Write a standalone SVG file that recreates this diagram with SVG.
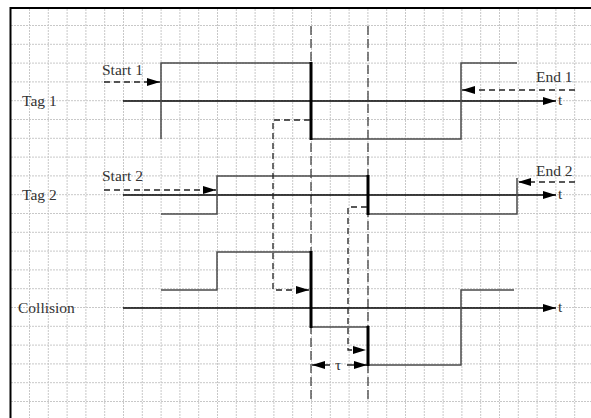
<svg xmlns="http://www.w3.org/2000/svg" width="591" height="418" viewBox="0 0 591 418">
<style>
.grid line{stroke:#c8c8c8;stroke-width:1;stroke-dasharray:2,1}
.sig{fill:none;stroke:#4a4a4a;stroke-width:1.5}
.thick{stroke:#000;stroke-width:3}
.axis{stroke:#000;stroke-width:1.3}
.dash{fill:none;stroke:#222;stroke-width:1.3;stroke-dasharray:6,4}
.guide{fill:none;stroke:#444;stroke-width:1.3;stroke-dasharray:9,4}
text{font-family:"Liberation Serif","Times New Roman",serif;font-size:15.5px;fill:#333}
</style>
<defs>
<marker id="ah" viewBox="0 0 13 8" refX="13" refY="4" markerWidth="13" markerHeight="8" markerUnits="userSpaceOnUse" orient="auto-start-reverse">
<path d="M0,0 L13,4 L0,8 z" fill="#000"/>
</marker>
</defs>
<rect x="0" y="0" width="591" height="418" fill="#fff"/>
<g class="grid" id="grid">
<line x1="29.5" y1="9" x2="29.5" y2="418"/><line x1="48.3" y1="9" x2="48.3" y2="418"/><line x1="67.1" y1="9" x2="67.1" y2="418"/><line x1="85.9" y1="9" x2="85.9" y2="418"/><line x1="104.7" y1="9" x2="104.7" y2="418"/><line x1="123.5" y1="9" x2="123.5" y2="418"/><line x1="142.3" y1="9" x2="142.3" y2="418"/><line x1="161.1" y1="9" x2="161.1" y2="418"/><line x1="179.9" y1="9" x2="179.9" y2="418"/><line x1="198.7" y1="9" x2="198.7" y2="418"/><line x1="217.5" y1="9" x2="217.5" y2="418"/><line x1="236.3" y1="9" x2="236.3" y2="418"/><line x1="255.1" y1="9" x2="255.1" y2="418"/><line x1="273.9" y1="9" x2="273.9" y2="418"/><line x1="292.7" y1="9" x2="292.7" y2="418"/><line x1="311.5" y1="9" x2="311.5" y2="418"/><line x1="330.3" y1="9" x2="330.3" y2="418"/><line x1="349.1" y1="9" x2="349.1" y2="418"/><line x1="367.9" y1="9" x2="367.9" y2="418"/><line x1="386.7" y1="9" x2="386.7" y2="418"/><line x1="405.5" y1="9" x2="405.5" y2="418"/><line x1="424.3" y1="9" x2="424.3" y2="418"/><line x1="443.1" y1="9" x2="443.1" y2="418"/><line x1="461.9" y1="9" x2="461.9" y2="418"/><line x1="480.7" y1="9" x2="480.7" y2="418"/><line x1="499.5" y1="9" x2="499.5" y2="418"/><line x1="518.3" y1="9" x2="518.3" y2="418"/><line x1="537.1" y1="9" x2="537.1" y2="418"/><line x1="555.9" y1="9" x2="555.9" y2="418"/><line x1="574.7" y1="9" x2="574.7" y2="418"/>
<line x1="11" y1="25.5" x2="591" y2="25.5"/><line x1="11" y1="44.3" x2="591" y2="44.3"/><line x1="11" y1="63.1" x2="591" y2="63.1"/><line x1="11" y1="81.9" x2="591" y2="81.9"/><line x1="11" y1="100.7" x2="591" y2="100.7"/><line x1="11" y1="119.5" x2="591" y2="119.5"/><line x1="11" y1="138.3" x2="591" y2="138.3"/><line x1="11" y1="157.1" x2="591" y2="157.1"/><line x1="11" y1="175.9" x2="591" y2="175.9"/><line x1="11" y1="194.7" x2="591" y2="194.7"/><line x1="11" y1="213.5" x2="591" y2="213.5"/><line x1="11" y1="232.3" x2="591" y2="232.3"/><line x1="11" y1="251.1" x2="591" y2="251.1"/><line x1="11" y1="269.9" x2="591" y2="269.9"/><line x1="11" y1="288.7" x2="591" y2="288.7"/><line x1="11" y1="307.5" x2="591" y2="307.5"/><line x1="11" y1="326.3" x2="591" y2="326.3"/><line x1="11" y1="345.1" x2="591" y2="345.1"/><line x1="11" y1="363.9" x2="591" y2="363.9"/><line x1="11" y1="382.7" x2="591" y2="382.7"/><line x1="11" y1="401.5" x2="591" y2="401.5"/>
</g>
<g id="frame">
<line x1="10.5" y1="8" x2="591" y2="8" stroke="#000" stroke-width="2"/>
<line x1="10.5" y1="7" x2="10.5" y2="418" stroke="#000" stroke-width="2"/>
</g>
<g id="guides">
<line class="guide" x1="311" y1="26" x2="311" y2="402"/>
<line class="guide" x1="368" y1="26" x2="368" y2="402"/>
</g>
<g id="tag1">
<text x="22" y="106">Tag 1</text>
<line class="axis" x1="123" y1="101" x2="556" y2="101" marker-end="url(#ah)"/>
<text x="558" y="105">t</text>
<polyline class="sig" points="161,139 161,63 311,63"/>
<polyline class="sig" points="311,139 461,139 461,63 517,63"/>
<line class="thick" x1="311" y1="62" x2="311" y2="140"/>
</g>
<g id="tag2">
<text x="22" y="200">Tag 2</text>
<line class="axis" x1="123" y1="195" x2="556" y2="195" marker-end="url(#ah)"/>
<text x="558" y="199">t</text>
<polyline class="sig" points="161,214 217,214 217,176 368,176"/>
<polyline class="sig" points="368,214 517,214 517,178"/>
<line class="thick" x1="368" y1="175" x2="368" y2="215"/>
</g>
<g id="collision">
<text x="18" y="313">Collision</text>
<line class="axis" x1="123" y1="308" x2="556" y2="308" marker-end="url(#ah)"/>
<text x="558" y="312">t</text>
<polyline class="sig" points="161,290 217,290 217,252 311,252"/>
<polyline class="sig" points="311,327 368,327"/>
<polyline class="sig" points="368,365 461,365 461,290 514,290"/>
<line class="thick" x1="311" y1="251" x2="311" y2="328"/>
<line class="thick" x1="368" y1="326" x2="368" y2="366"/>
</g>
<g id="labels">
<text x="102" y="75">Start 1</text>
<text x="102" y="181">Start 2</text>
<text x="536" y="82">End 1</text>
<text x="536" y="176">End 2</text>
<text x="335" y="370">τ</text>
</g>
<g id="connectors">
<line class="dash" x1="104" y1="82" x2="160" y2="82" marker-end="url(#ah)"/>
<line class="dash" x1="104" y1="190" x2="216" y2="190" marker-end="url(#ah)"/>
<line class="dash" x1="575" y1="90" x2="462" y2="90" marker-end="url(#ah)"/>
<line class="dash" x1="575" y1="182" x2="518" y2="182" marker-end="url(#ah)"/>
<polyline class="dash" points="310,120 273,120 273,290 309,290" marker-end="url(#ah)"/>
<polyline class="dash" points="367,207 348,207 348,350 366,350" marker-end="url(#ah)"/>
<line x1="312" y1="365" x2="330" y2="365" stroke="#000" stroke-width="1.3" marker-start="url(#ah)"/>
<line x1="347" y1="365" x2="367" y2="365" stroke="#000" stroke-width="1.3" marker-end="url(#ah)"/>
</g>
</svg>
